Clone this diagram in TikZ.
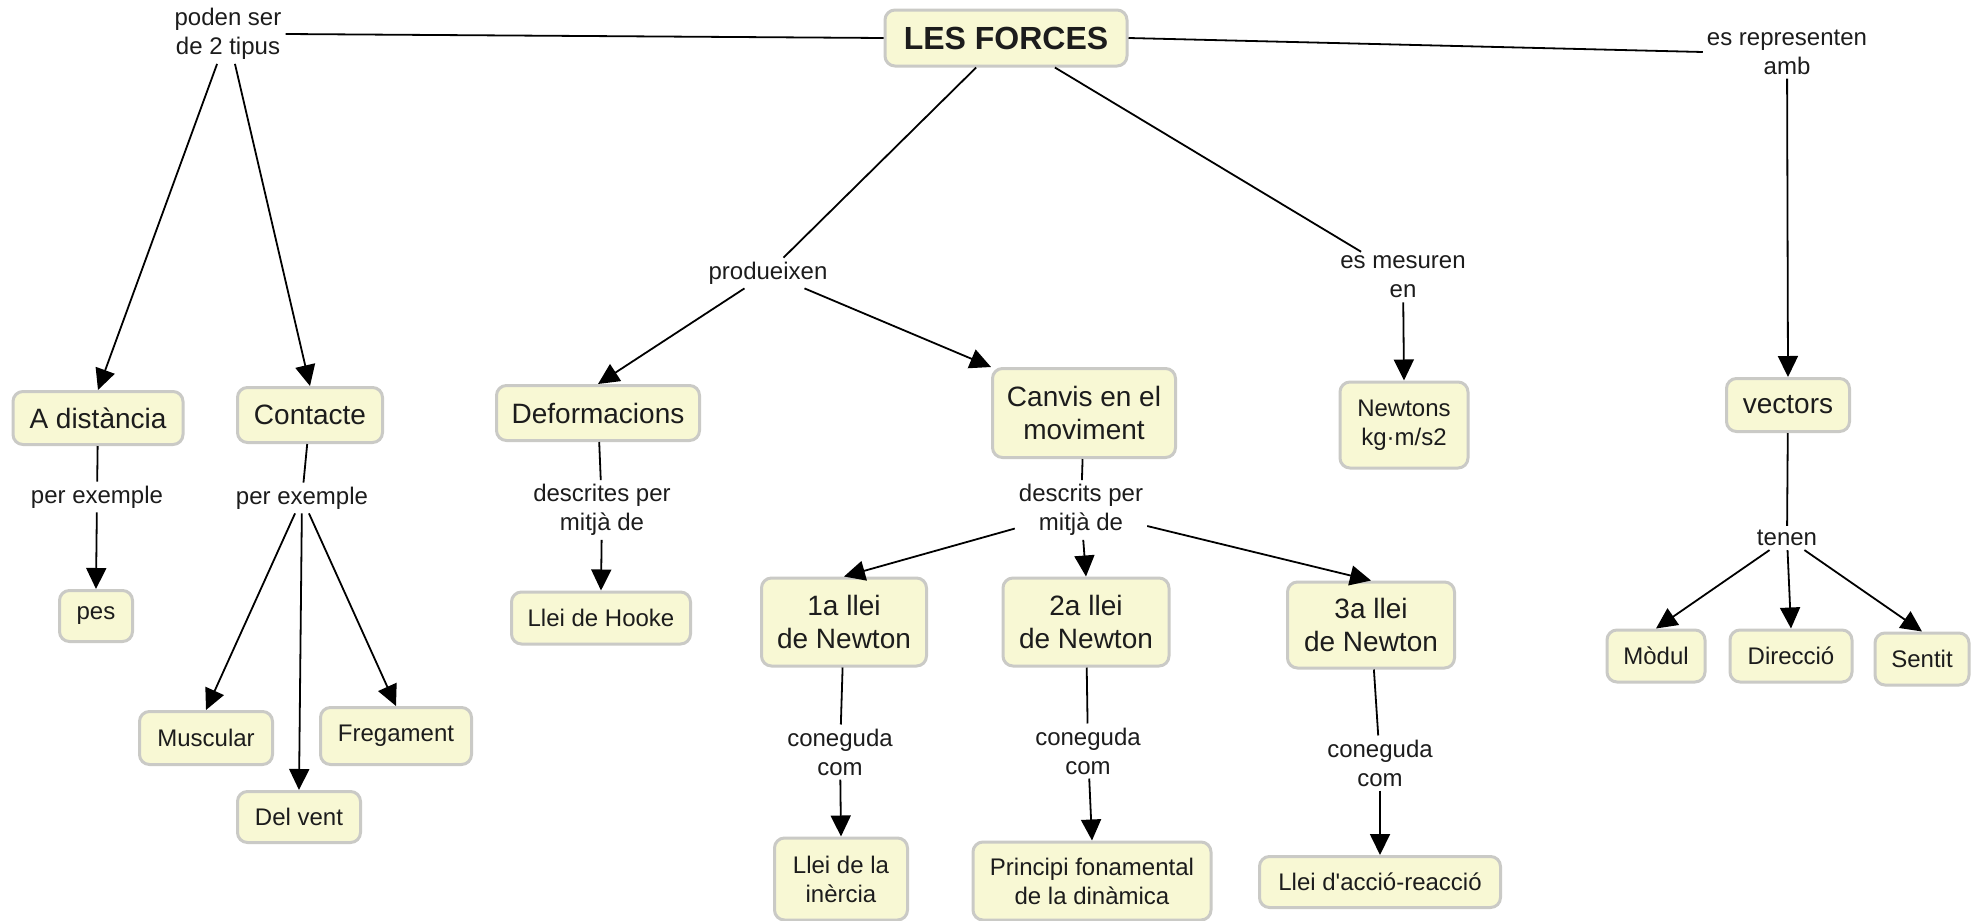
\documentclass[tikz,border=0pt]{standalone}
\usepackage{fontspec}
\setmainfont{Liberation Sans}
\newfontfamily\plainfont{Liberation Sans}
\usetikzlibrary{arrows.meta}
\definecolor{boxfill}{RGB}{248,248,212}
\definecolor{boxline}{RGB}{202,202,198}
\definecolor{txt}{RGB}{28,28,28}
\begin{document}
\begin{tikzpicture}[x=1pt,y=-1pt,
  concept/.style={draw=boxline, line width=3pt, fill=boxfill, rounded corners=10pt, inner sep=0pt, align=center, text=txt},
  big/.style={font=\fontsize{28}{33}\selectfont},
  small/.style={font=\fontsize{24}{29}\selectfont},
  lab/.style={inner sep=4pt, align=center, text=txt, font=\fontsize{24}{29}\selectfont},
  link/.style={line width=1.8pt, draw=black},
  arr/.style={link, -{Triangle[length=21pt,width=20pt]}}
]
\useasboundingbox (0,0) rectangle (1979,921);
\fill[white] (0,0) rectangle (1979,921);

% concepts
\node[concept, font=\fontsize{32}{38}\selectfont\bfseries, minimum width=242pt, minimum height=56pt] (forces) at (1006,38) {LES FORCES};
\node[concept,big,minimum width=170pt,minimum height=53pt] (adist) at (98,418) {A distància};
\node[concept,big,minimum width=145pt,minimum height=55pt] (cont) at (310,415) {Contacte};
\node[concept,small,minimum width=73pt,minimum height=51pt] (pes) at (96,616) {pes};
\node[concept,small,minimum width=133pt,minimum height=53pt] (musc) at (206,738) {Muscular};
\node[concept,small,minimum width=151pt,minimum height=57pt] (freg) at (396,736) {Fregament};
\node[concept,small,minimum width=123pt,minimum height=51pt] (vent) at (299,817) {Del vent};
\node[concept,big,minimum width=203pt,minimum height=55pt] (deform) at (598,413) {Deformacions};
\node[concept,small,minimum width=179pt,minimum height=52pt] (hooke) at (601,618) {Llei de Hooke};
\node[concept,big,minimum width=183pt,minimum height=89pt] (canvis) at (1084,413) {Canvis en el\\moviment};
\node[concept,big,minimum width=165pt,minimum height=88pt] (llei1) at (844,622) {1a llei\\de Newton};
\node[concept,big,minimum width=166pt,minimum height=88pt] (llei2) at (1086,622) {2a llei\\de Newton};
\node[concept,big,minimum width=167pt,minimum height=86pt] (llei3) at (1371,625) {3a llei\\de Newton};
\node[concept,small,minimum width=133pt,minimum height=82pt] (inercia) at (841,879) {Llei de la\\inèrcia};
\node[concept,small,minimum width=238pt,minimum height=78pt] (principi) at (1092,881) {Principi fonamental\\de la dinàmica};
\node[concept,small,minimum width=241pt,minimum height=51pt] (accio) at (1380,882) {Llei d{\plainfont '}acció-reacció};
\node[concept,small,minimum width=128pt,minimum height=86pt] (newtons) at (1404,425) {Newtons\\kg·m/s2};
\node[concept,big,minimum width=123pt,minimum height=53pt] (vectors) at (1788,405) {vectors};
\node[concept,small,minimum width=98pt,minimum height=52pt] (modul) at (1656,656) {Mòdul};
\node[concept,small,minimum width=122pt,minimum height=52pt] (direccio) at (1791,656) {Direcció};
\node[concept,small,minimum width=94pt,minimum height=52pt] (sentit) at (1922,659) {Sentit};

% linking phrases
\node[lab] (pod) at (228,34) {poden ser\\de 2 tipus};
\node[lab] (rep) at (1787,52) {es representen\\amb};
\node[lab] (prod) at (768,273) {produeixen};
\node[lab] (mes) at (1403,277) {es mesuren\\en};
\node[lab] (pe1) at (97,497) {per exemple};
\node[lab] (pe2) at (302,498) {per exemple};
\node[lab] (desc1) at (602,510) {descrites per\\mitjà de};
\node[lab] (desc2) at (1081,510) {descrits per\\mitjà de};
\node[lab] (con1) at (840,752) {coneguda\\com};
\node[lab] (con2) at (1088,751) {coneguda\\com};
\node[lab] (con3) at (1380,763) {coneguda\\com};
\node[lab] (tenen) at (1787,538) {tenen};

% connectors
\draw[link] (forces.west) -- (pod.east);
\draw[arr] (pod) -- (adist.north);
\draw[arr] (pod) -- (cont.north);
\draw[link] (forces.east) -- (rep.west);
\draw[arr] (rep) -- (vectors.north);
\draw[link] (forces) -- (prod);
\draw[arr] (prod) -- (deform.north);
\draw[arr] (prod) -- (canvis.north west);
\draw[link] (forces) -- (mes);
\draw[arr] (mes) -- (newtons.north);

\draw[link] (adist) -- (pe1);
\draw[arr] (pe1) -- (pes.north);
\draw[link] (cont) -- (pe2);
\draw[arr] (pe2) -- (musc.north);
\draw[arr] (pe2) -- (vent.north);
\draw[arr] (pe2) -- (freg.north);

\draw[link] (deform) -- (desc1);
\draw[arr] (desc1) -- (hooke.north);
\draw[link] (canvis) -- (desc2);
\draw[arr] (desc2) -- (llei1.north);
\draw[arr] (desc2) -- (llei2.north);
\draw[arr] (desc2) -- (llei3.north);

\draw[link] (llei1) -- (con1);
\draw[arr] (con1) -- (inercia.north);
\draw[link] (llei2) -- (con2);
\draw[arr] (con2) -- (principi.north);
\draw[link] (llei3) -- (con3);
\draw[arr] (con3) -- (accio.north);

\draw[link] (vectors) -- (tenen);
\draw[arr] (tenen) -- (modul.north);
\draw[arr] (tenen) -- (direccio.north);
\draw[arr] (tenen) -- (sentit.north);
\end{tikzpicture}
\end{document}
